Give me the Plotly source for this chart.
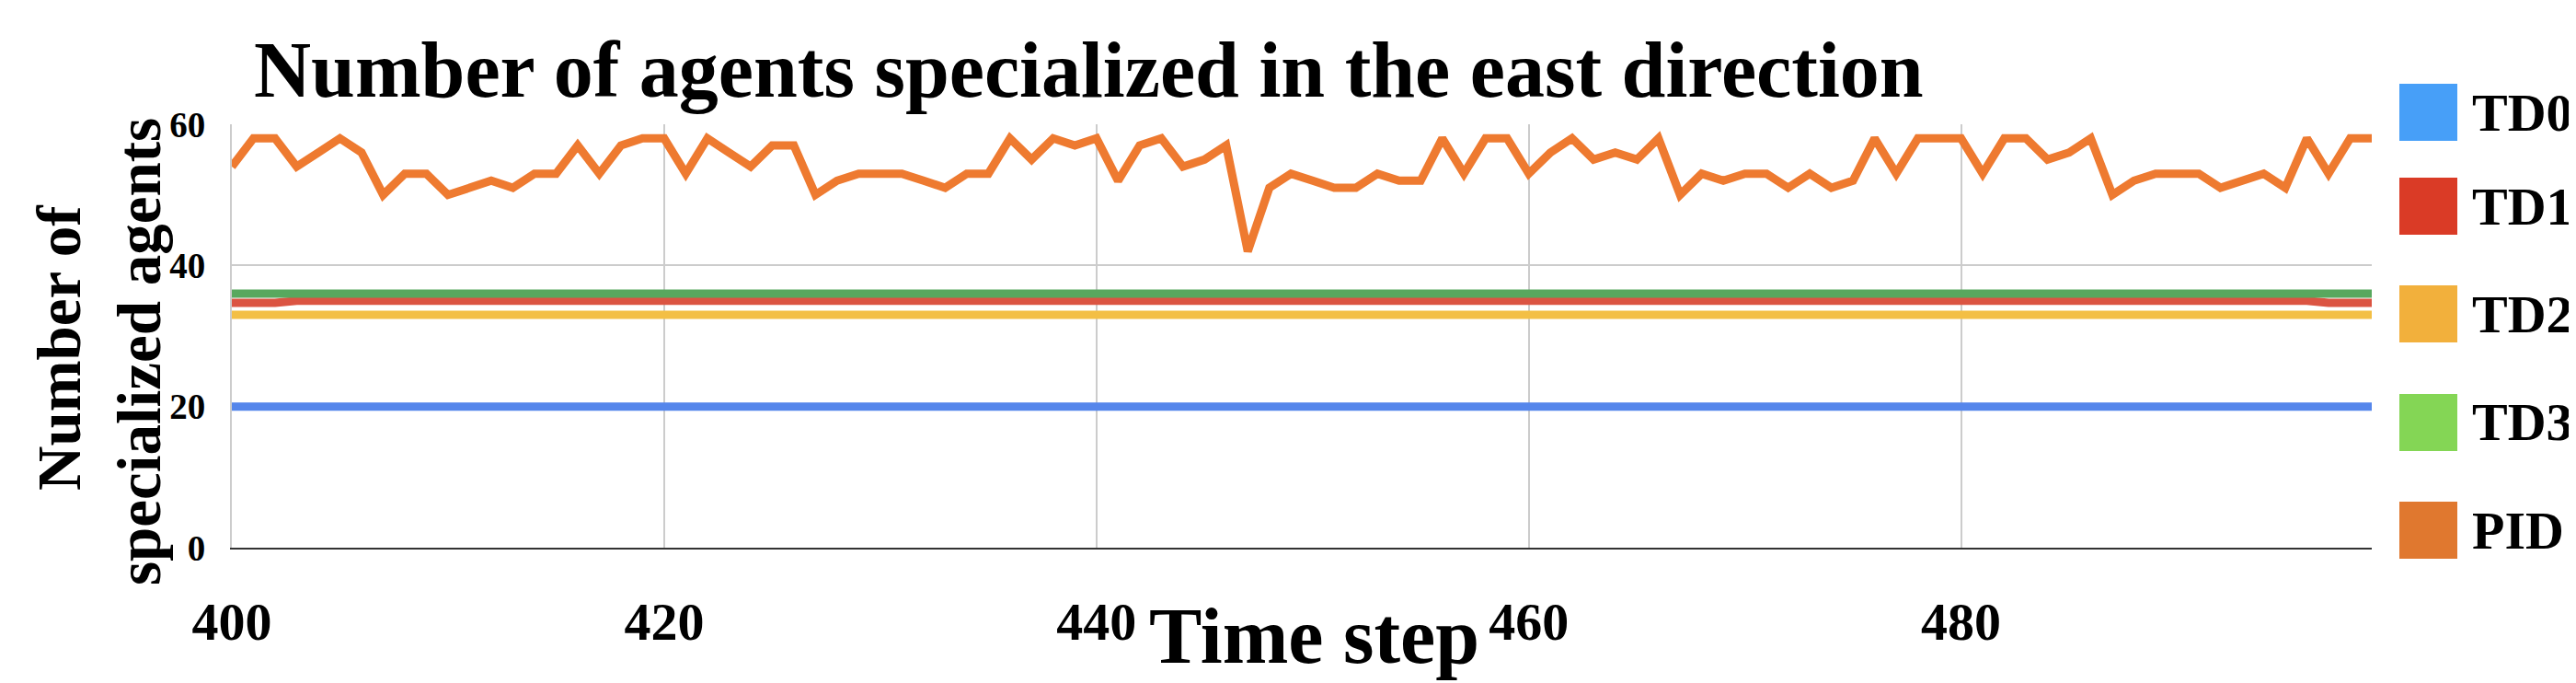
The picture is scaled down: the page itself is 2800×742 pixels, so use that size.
import plotly.graph_objects as go

# time axis and series
time_steps = list(range(400, 500))

pid = [54, 58, 58, 54, 56, 58, 56, 50, 53, 53,
       50, 51, 52, 51, 53, 53, 57, 53, 57, 58,
       58, 53, 58, 56, 54, 57, 57, 50, 52, 53,
       53, 53, 52, 51, 53, 53, 58, 55, 58, 57,
       58, 52, 57, 58, 54, 55, 57, 42, 51, 53,
       52, 51, 51, 53, 52, 52, 58, 53, 58, 58,
       53, 56, 58, 55, 56, 55, 58, 50, 53, 52,
       53, 53, 51, 53, 51, 52, 58, 53, 58, 58,
       58, 53, 58, 58, 55, 56, 58, 50, 52, 53,
       53, 53, 51, 52, 53, 51, 58, 53, 58, 58]
td0 = [20] * 100
td1 = [34.7] * 3 + [35] * 94 + [34.7] * 3
td2 = [33] * 100
td3 = [36] * 100

series_names = ['TD0', 'TD1', 'TD2', 'TD3', 'PID']
series_values = [td0, td1, td2, td3, pid]
line_colors = ['#5586EB', '#DB5442', '#F3BF45', '#58A85E', '#EE7A30']
legend_colors = ['#479FF8', '#DA3B26', '#F2B03C', '#84D655', '#E0782F']

y_ticks = [0, 20, 40, 60]
x_ticks = [400, 420, 440, 460, 480]

FONT = 'Liberation Serif'
W, H = 2800, 742
L, R, T, B = 244, 230, 127, 155
pw, ph = W - L - R, H - T - B


def px_x(x):
    return (x - L) / pw


def px_y(y):
    return (H - B - y) / ph


fig = go.Figure()

# draw order: TD0, TD1, TD2, TD3, PID (green over red, orange on top)
for name, vals, col in zip(series_names, series_values, line_colors):
    fig.add_trace(go.Scatter(x=time_steps, y=vals, mode='lines', name=name,
                             line=dict(color=col, width=9), showlegend=False))

fig.update_xaxes(range=[400, 499], tickvals=x_ticks, ticktext=[str(t) for t in x_ticks],
                 showgrid=True, gridcolor='#cccccc', gridwidth=2,
                 showline=True, linecolor='#333333', linewidth=2,
                 zeroline=False, ticks='', ticklabelstandoff=28,
                 tickfont=dict(family=FONT, size=58, color='black', weight='bold'))
fig.update_yaxes(range=[0, 60], tickvals=y_ticks, ticktext=[str(t) for t in y_ticks],
                 showgrid=True, gridcolor='#cccccc', gridwidth=2,
                 showline=True, linecolor='#cccccc', linewidth=2,
                 zeroline=False, ticks='', ticklabelstandoff=19,
                 tickfont=dict(family=FONT, size=39, color='black', weight='bold'))

annotations = [
    dict(text='Number of agents specialized in the east direction',
         x=px_x(1175), y=px_y(68), font=dict(size=86)),
    dict(text='Time step', x=px_x(1420), y=px_y(683), font=dict(size=86)),
    dict(text='Number of', x=px_x(56), y=px_y(370), textangle=-90, font=dict(size=67)),
    dict(text='specialized agents', x=px_x(143), y=px_y(374), textangle=-90, font=dict(size=67)),
]

# custom legend: big colour squares with labels
shapes = []
legend_tops = [83, 185, 302, 420, 537]
for name, col, top in zip(series_names, legend_colors, legend_tops):
    shapes.append(dict(type='rect', xref='paper', yref='paper',
                       x0=px_x(2600), x1=px_x(2663), y0=px_y(top + 62), y1=px_y(top),
                       fillcolor=col, line=dict(width=0)))
    annotations.append(dict(text=name, x=px_x(2677), y=px_y(top + 31), xanchor='left',
                            font=dict(size=58)))

for a in annotations:
    a.setdefault('xanchor', 'center')
    a.update(xref='paper', yref='paper', yanchor='middle', showarrow=False)
    a['font'].update(family=FONT, color='black', weight='bold')

fig.update_layout(width=W, height=H, margin=dict(l=L, r=R, t=T, b=B),
                  paper_bgcolor='white', plot_bgcolor='white',
                  annotations=annotations, shapes=shapes, showlegend=False)

fig.write_html('out.html')
